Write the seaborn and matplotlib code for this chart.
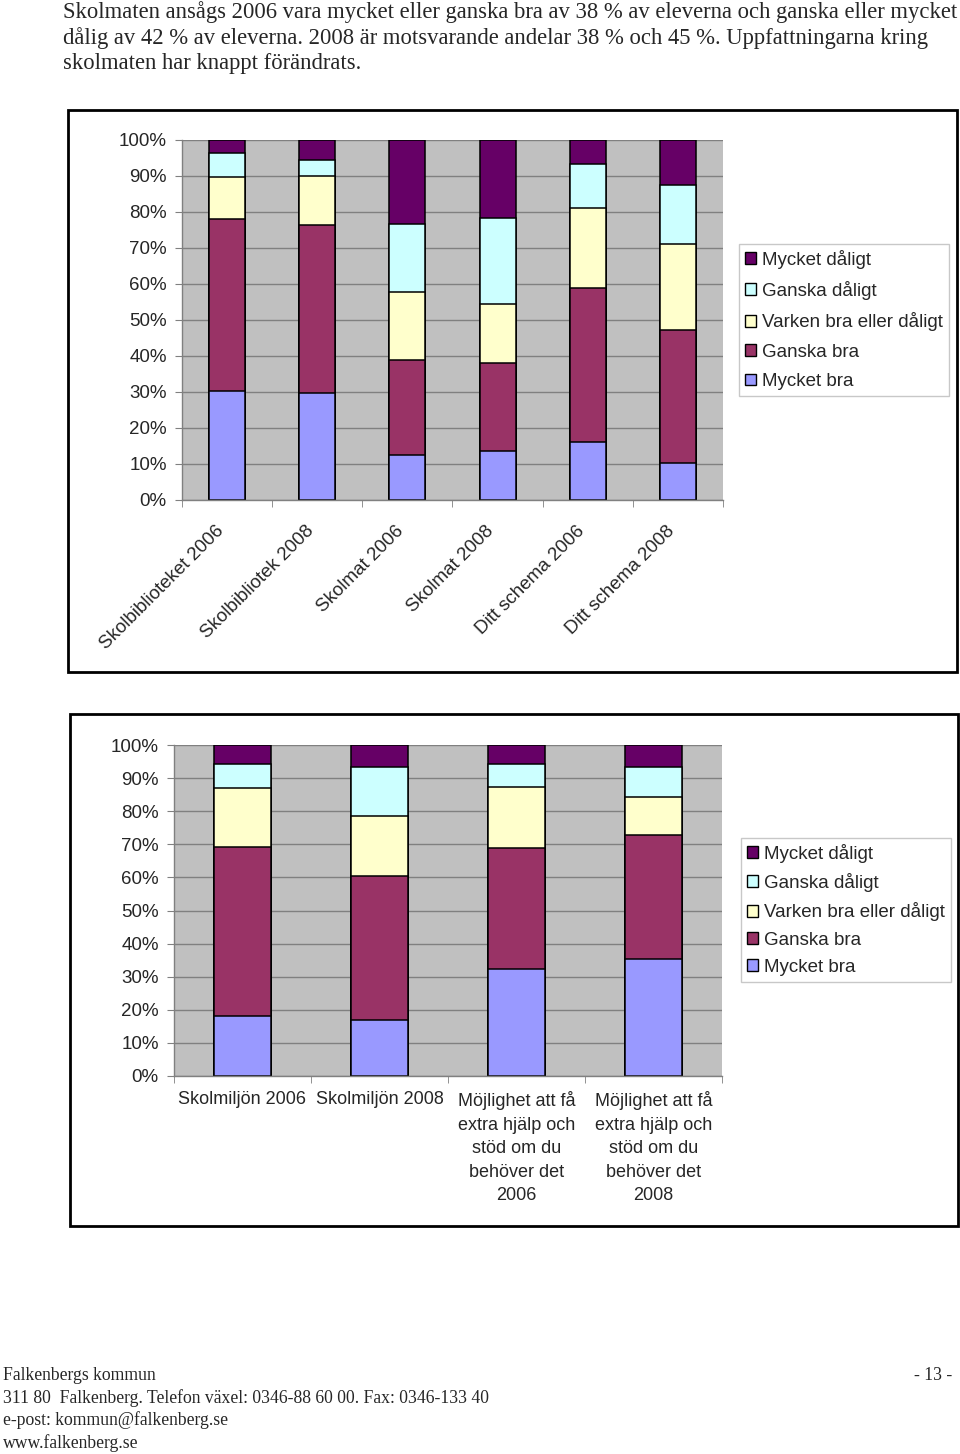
import matplotlib
matplotlib.use("Agg")
import matplotlib.pyplot as plt
import matplotlib.transforms as mtransforms
import numpy as np
import seaborn as sns
from matplotlib.patches import Rectangle, Patch

SERIES = ["Mycket bra", "Ganska bra", "Varken bra eller dåligt", "Ganska dåligt", "Mycket dåligt"]
COLORS = ["#9999FF", "#993366", "#FFFFCC", "#CCFFFF", "#660066"]

# chart 1
CATS_1 = ["Skolbiblioteket 2006", "Skolbibliotek 2008", "Skolmat 2006",
          "Skolmat 2008", "Ditt schema 2006", "Ditt schema 2008"]
MYCKET_BRA_1 = [30.2, 29.8, 12.4, 13.6, 16.1, 10.3]
GANSKA_BRA_1 = [47.8, 46.6, 26.4, 24.4, 42.9, 36.9]
VARKEN_1 = [11.7, 13.7, 19.0, 16.5, 22.2, 24.0]
GANSKA_DALIGT_1 = [6.8, 4.4, 18.9, 23.8, 12.1, 16.3]
MYCKET_DALIGT_1 = [3.5, 5.5, 23.3, 21.7, 6.7, 12.5]

# chart 2
CATS_2 = ["Skolmiljön 2006", "Skolmiljön 2008",
          "Möjlighet att få\nextra hjälp och\nstöd om du\nbehöver det\n2006",
          "Möjlighet att få\nextra hjälp och\nstöd om du\nbehöver det\n2008"]
MYCKET_BRA_2 = [18.1, 16.8, 32.2, 35.4]
GANSKA_BRA_2 = [51.0, 43.6, 36.6, 37.3]
VARKEN_2 = [17.8, 18.2, 18.5, 11.5]
GANSKA_DALIGT_2 = [7.3, 14.9, 6.9, 9.3]
MYCKET_DALIGT_2 = [5.8, 6.5, 5.8, 6.5]

TEXT_LINES = [
    "Skolmaten ansågs 2006 vara mycket eller ganska bra av 38 % av eleverna och ganska eller mycket",
    "dålig av 42 % av eleverna. 2008 är motsvarande andelar 38 % och 45 %. Uppfattningarna kring",
    "skolmaten har knappt förändrats.",
]
FOOTER = [
    "Falkenbergs kommun",
    "311 80  Falkenberg. Telefon växel: 0346-88 60 00. Fax: 0346-133 40",
    "e-post: kommun@falkenberg.se",
    "www.falkenberg.se",
]

sns.set_style("whitegrid", {
    "axes.facecolor": "#C0C0C0",
    "grid.color": "#808080",
    "axes.edgecolor": "#808080",
})
plt.rcParams["font.family"] = ["Liberation Sans", "DejaVu Sans"]

W, H = 960, 1454
fig = plt.figure(figsize=(W / 100, H / 100), dpi=100)
fs = 13.5


def fx(px):
    return px / W


def fy(py):
    return 1 - py / H


def stacked(ax, cats, values, width):
    cum = np.cumsum(np.array(values), axis=0)
    for i in reversed(range(len(SERIES))):
        sns.barplot(x=cats, y=cum[i], color=COLORS[i], saturation=1,
                    edgecolor="black", linewidth=1.1, width=width,
                    errorbar=None, ax=ax)
    n = len(cats)
    ax.set_xlim(-0.5, n - 0.5)
    ax.set_ylim(0, 100)
    ax.set_axisbelow(True)
    ax.grid(axis="y", color="#808080", linewidth=1)
    ax.grid(axis="x", visible=False)
    ax.set_yticks(range(0, 101, 10))
    ax.set_yticklabels([f"{v}%" for v in range(0, 101, 10)], fontsize=fs)
    ax.tick_params(axis="y", length=5, color="#808080", pad=6, left=True)
    ax.set_xticks(np.arange(-0.5, n, 1.0), minor=True)
    ax.tick_params(axis="x", which="minor", length=5, color="#808080", bottom=True)
    ax.tick_params(axis="x", which="major", length=0)
    for s in ["top", "right"]:
        ax.spines[s].set_visible(False)
    for s in ["left", "bottom"]:
        ax.spines[s].set_color("#808080")
        ax.spines[s].set_linewidth(1)
    ax.set_xlabel("")
    ax.set_ylabel("")


def legend(ax, x0, y0, spacing):
    handles = [Patch(facecolor=COLORS[i], edgecolor="black", linewidth=1)
               for i in reversed(range(len(SERIES)))]
    labels = list(reversed(SERIES))
    leg = ax.legend(handles, labels, loc="upper left",
                    bbox_to_anchor=(fx(x0), fy(y0)), bbox_transform=fig.transFigure,
                    fontsize=fs, frameon=True, fancybox=False, framealpha=1,
                    facecolor="white", edgecolor="#C8C8C8",
                    handlelength=0.6, handleheight=0.6,
                    handletextpad=0.35, labelspacing=spacing, borderpad=0.3,
                    borderaxespad=0)
    leg.get_frame().set_linewidth(1)


# frames
fig.add_artist(Rectangle((fx(68), fy(672)), fx(957) - fx(68), fy(110) - fy(672),
                         transform=fig.transFigure, fill=False, edgecolor="black", linewidth=2))
fig.add_artist(Rectangle((fx(70), fy(1226)), fx(958) - fx(70), fy(714) - fy(1226),
                         transform=fig.transFigure, fill=False, edgecolor="black", linewidth=2))

# chart 1
ax1 = fig.add_axes([fx(182), fy(500), fx(723) - fx(182), fy(140) - fy(500)])
values_1 = [MYCKET_BRA_1, GANSKA_BRA_1, VARKEN_1, GANSKA_DALIGT_1, MYCKET_DALIGT_1]
stacked(ax1, CATS_1, values_1, 0.4)
ax1.set_xticks(range(len(CATS_1)))
ax1.set_xticklabels(CATS_1, rotation=45, ha="right", va="top",
                    rotation_mode="anchor", fontsize=fs)
ax1.tick_params(axis="x", which="major", pad=16)
shift = mtransforms.ScaledTranslation(-12 / 100, 0, fig.dpi_scale_trans)
for lab in ax1.get_xticklabels():
    lab.set_transform(lab.get_transform() + shift)
legend(ax1, 739, 244, 0.66)

# chart 2
ax2 = fig.add_axes([fx(174), fy(1076), fx(722) - fx(174), fy(745) - fy(1076)])
values_2 = [MYCKET_BRA_2, GANSKA_BRA_2, VARKEN_2, GANSKA_DALIGT_2, MYCKET_DALIGT_2]
stacked(ax2, CATS_2, values_2, 0.42)
ax2.set_xticks(range(len(CATS_2)))
ax2.set_xticklabels(CATS_2, fontsize=13, linespacing=1.5, ha="center", va="top")
ax2.tick_params(axis="x", which="major", pad=11)
legend(ax2, 741, 838, 0.55)

# page text
serif = ["Liberation Serif", "DejaVu Serif"]
for i, line in enumerate(TEXT_LINES):
    fig.text(fx(63), fy(12 + 26 * i), line, family=serif, fontsize=16.3, va="center", ha="left")
for i, line in enumerate(FOOTER):
    fig.text(fx(3), fy(1375 + 22.6 * i), line, family=serif, fontsize=12.7, va="center", ha="left")
fig.text(fx(952), fy(1375), "- 13 -", family=serif, fontsize=12.7, va="center", ha="right")

fig.savefig("out.png", dpi=100, facecolor="white")
